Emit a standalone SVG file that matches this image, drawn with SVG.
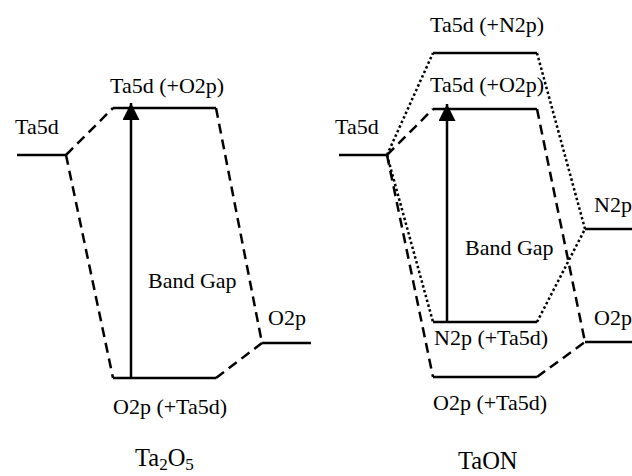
<svg xmlns="http://www.w3.org/2000/svg" width="632" height="476" viewBox="0 0 632 476">
<defs>
<style>
text{font-family:'Liberation Serif','DejaVu Serif',serif;font-size:22px;fill:#000}
.big{font-size:24.5px}
.lv{stroke:#000;stroke-width:2.5;fill:none}
.da{stroke:#000;stroke-width:2.5;fill:none;stroke-dasharray:10 6}
.do{stroke:#000;stroke-width:2.5;fill:none;stroke-dasharray:2.5 2.5}
</style>
<marker id="ah" markerWidth="17" markerHeight="17" refX="17" refY="8.5" orient="auto" markerUnits="userSpaceOnUse" viewBox="0 0 17 17">
<path d="M0,0 L17,8.5 L0,17 Z" fill="#000"/>
</marker>
</defs>
<rect width="632" height="476" fill="#fff"/>

<!-- Ta2O5 -->
<g id="ta2o5-ta5d"><path class="lv" d="M17,155 H66"/><text x="15" y="134">Ta5d</text></g>
<g id="ta2o5-cb"><path class="lv" d="M113,108 H216"/><text x="110" y="93">Ta5d (+O2p)</text></g>
<g id="ta2o5-vb"><path class="lv" d="M113,378 H216"/><text x="113" y="414">O2p (+Ta5d)</text></g>
<g id="ta2o5-o2p"><path class="lv" d="M262,343 H311"/><text x="268" y="325">O2p</text></g>
<g id="ta2o5-gap"><text x="148" y="288">Band Gap</text></g>
<g id="ta2o5-label"><text class="big" x="135" y="466">Ta<tspan dy="4" font-size="17">2</tspan><tspan dy="-4">O</tspan><tspan dy="4" font-size="17">5</tspan></text></g>

<!-- TaON -->
<g id="taon-ta5d"><path class="lv" d="M339,155 H387"/><text x="335" y="134">Ta5d</text></g>
<g id="taon-cbn"><path class="lv" d="M433,53 H537"/><text x="430" y="32">Ta5d (+N2p)</text></g>
<g id="taon-cbo"><path class="lv" d="M433,109 H537"/><text x="430" y="92">Ta5d (+O2p)</text></g>
<g id="taon-vbn"><path class="lv" d="M433,322 H537"/><text x="434" y="345">N2p (+Ta5d)</text></g>
<g id="taon-vbo"><path class="lv" d="M433,377 H537"/><text x="433" y="410">O2p (+Ta5d)</text></g>
<g id="taon-n2p"><path class="lv" d="M585,229 H632"/><text x="594" y="212">N2p</text></g>
<g id="taon-o2p"><path class="lv" d="M585,342 H632"/><text x="594" y="325">O2p</text></g>
<g id="taon-gap"><text x="465" y="255">Band Gap</text></g>
<g id="taon-label"><text class="big" x="458" y="469">TaON</text></g>

<g id="connectors">
<path class="da" d="M66,155 L113,108"/>
<path class="da" d="M66,155 L113,378"/>
<path class="da" d="M216,108 L262,343"/>
<path class="da" d="M216,378 L262,343"/>
<path class="lv" d="M131,378 V103" marker-end="url(#ah)"/>
<path class="da" d="M387,155 L433,109"/>
<path class="da" d="M387,155 L433,377"/>
<path class="da" d="M537,109 L585,342"/>
<path class="da" d="M537,377 L585,342"/>
<path class="do" d="M387,155 L433,53"/>
<path class="do" d="M387,155 L433,322"/>
<path class="do" d="M537,53 L585,229"/>
<path class="do" d="M537,322 L585,229"/>
<path class="lv" d="M447,322 V104" marker-end="url(#ah)"/>
</g>
</svg>
